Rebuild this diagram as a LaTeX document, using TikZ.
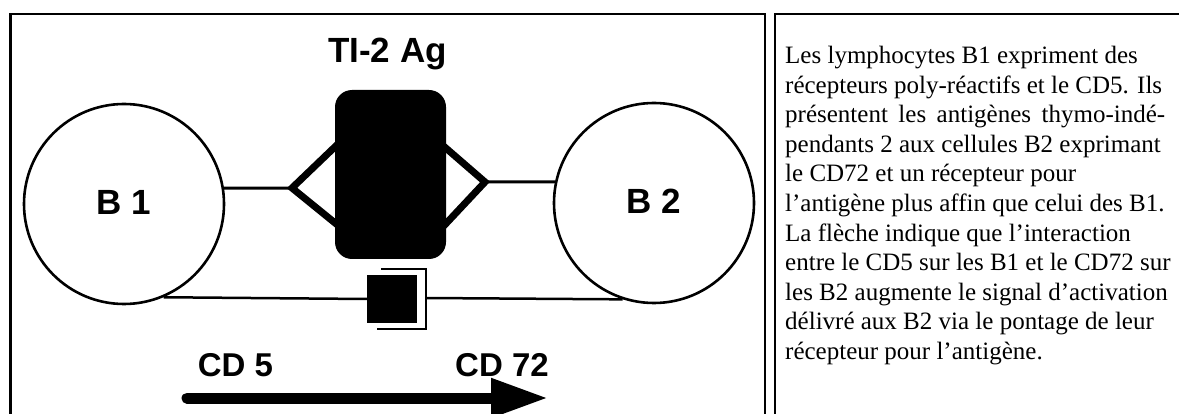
\documentclass[tikz,border=0pt]{standalone}
\usepackage{fontspec}
\setmainfont{Liberation Serif}
\newfontfamily\lsans{Liberation Sans}
\usetikzlibrary{arrows.meta}
\tikzset{
  frame/.style={draw=black, line width=2.5pt},
  cell/.style={circle, draw=black, line width=2.6pt, minimum size=200pt, inner sep=0pt, font=\lsans\bfseries\fontsize{35}{40}\selectfont},
  conn/.style={draw=black, line width=3pt},
  lowconn/.style={draw=black, line width=2.5pt},
  arm/.style={draw=black, line width=7pt, line join=miter},
  agbox/.style={rectangle, rounded corners=17pt, fill=black, minimum width=111pt, minimum height=169pt, inner sep=0pt},
  sqbox/.style={rectangle, fill=black, minimum width=50pt, minimum height=48pt, inner sep=0pt},
  lab/.style={font=\lsans\bfseries\fontsize{35}{40}\selectfont, inner sep=0pt, anchor=base},
  cdlab/.style={font=\lsans\bfseries\fontsize{33}{38}\selectfont, inner sep=0pt, anchor=base},
  bigarrow/.style={draw=black, line width=11pt, line cap=round, -{Triangle[length=57pt,width=37pt]}},
  caption/.style={font=\fontsize{25}{29.6}\selectfont, align=left, inner sep=0pt, anchor=north west}
}
\begin{document}
\begin{tikzpicture}[x=1pt,y=-1pt]
\useasboundingbox (0,0) rectangle (1179,414);
\clip (0,0) rectangle (1179,414);
\fill[white] (0,0) rectangle (1179,414);
% frames
\draw[frame] (10.5,14) rectangle (765,440);
\draw[frame] (775,14) rectangle (1200,440);
% cells
\node[cell] (B1) at (124,204) {\raisebox{3pt}{B 1}};
\node[cell] (B2) at (654,203) {\raisebox{3pt}{B 2}};
% diamond tips
\coordinate (dl) at (292,188);
\coordinate (dr) at (485,182);
\coordinate (br) at (426,298);
% connectors
\draw[conn] (B1.9) -- (dl);
\draw[conn] (dr) -- (B2.168);
\draw[arm] (340,142) -- (dl) -- (340,227);
\draw[arm] (440,143) -- (dr) -- (440,230);
% antigen
\node[agbox] (ag) at (390.5,174.5) {};
\node[lab] (agt) at (387.5,63) {TI-2 Ag};
% CD5 / CD72 contact
\node[sqbox] (sq) at (392,299) {};
\draw[line width=2pt] (381,269) -- (426,269) -- (426,329) -- (377,329);
\draw[lowconn] (B1.-67) -- (sq.west);
\draw[lowconn] (br) -- (B2.-108);
% arrow
\node[cdlab] (cd5) at (235.5,376) {CD 5};
\node[cdlab] (cd72) at (502,376) {CD 72};
\coordinate (a0) at (187,398);
\coordinate (a1) at (548,398);
\draw[bigarrow] (a0) -- (a1);
% caption
\node[caption] (txt) at (785,45.9) {Les lymphocytes B1 expriment des\\
récepteurs poly-réactifs et le CD5. Ils\\
\makebox[380pt][s]{présentent les antigènes thymo-indé-}\\
pendants 2 aux cellules B2 exprimant\\
le CD72 et un récepteur pour\\
l’antigène plus affin que celui des B1.\\
La flèche indique que l’interaction\\
entre le CD5 sur les B1 et le CD72 sur\\
les B2 augmente le signal d’activation\\
délivré aux B2 via le pontage de leur\\
récepteur pour l’antigène.};
\end{tikzpicture}
\end{document}
